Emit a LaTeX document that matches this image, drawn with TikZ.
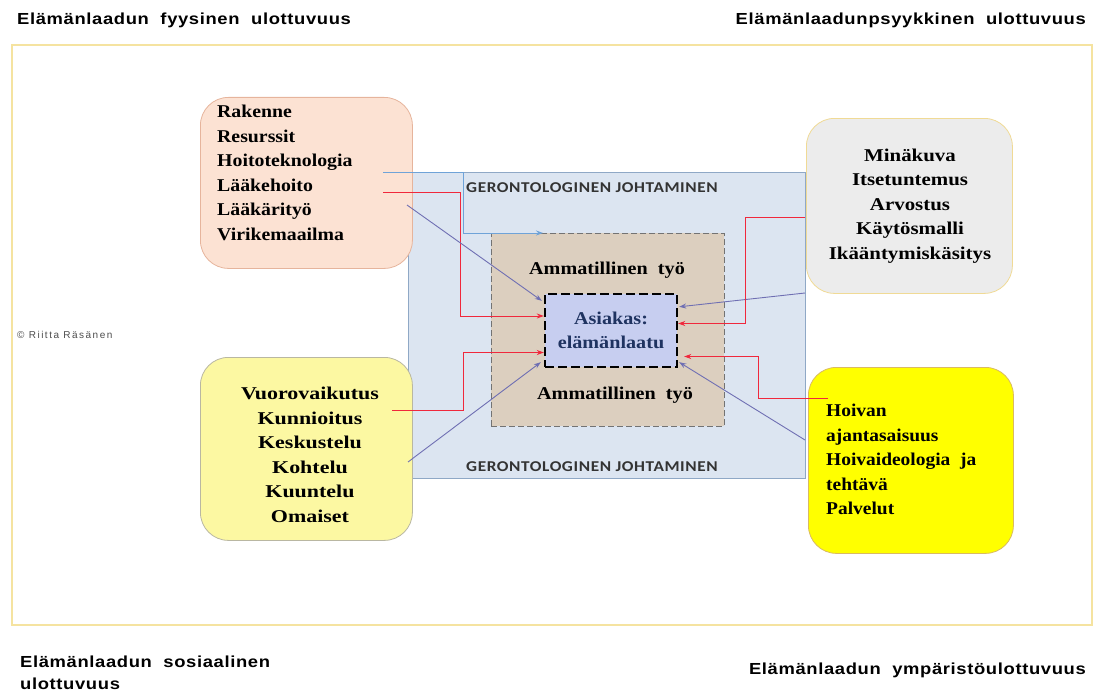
\documentclass[tikz,border=0pt]{standalone}
\usepackage{fontspec}
\setmainfont{Liberation Serif}
\setsansfont{Liberation Sans}
\newfontfamily\otsikkosans{Liberation Sans}[FakeStretch=1.15, LetterSpace=4]
\newfontfamily\johtofont{Carlito}[FakeStretch=1.15, LetterSpace=4]
\newfontfamily\pienifont{Liberation Sans}[LetterSpace=15]
\usetikzlibrary{arrows.meta, calc}
\definecolor{kehys}{HTML}{F5E3A0}
\definecolor{sininen}{HTML}{DCE5F1}
\definecolor{sinireuna}{HTML}{8FA8C6}
\definecolor{ruskea}{HTML}{DCCFBF}
\definecolor{asiakasfill}{HTML}{C7CEF0}
\definecolor{persikka}{HTML}{FCE2D3}
\definecolor{persikkareuna}{HTML}{E6B49C}
\definecolor{harmaa}{HTML}{ECECEC}
\definecolor{harmaareuna}{HTML}{F0DA95}
\definecolor{vaaleakelta}{HTML}{FCF8A2}
\definecolor{vaaleareuna}{HTML}{B9B7A2}
\definecolor{keltainen}{HTML}{FFFF00}
\definecolor{keltareuna}{HTML}{D9BA63}
\definecolor{cpun}{HTML}{F0283C}
\definecolor{cvio}{HTML}{6F6FB3}
\definecolor{csin}{HTML}{6FA3D8}
\definecolor{tummasin}{HTML}{1F3361}
\tikzset{
  laatikko/.style={draw=#1, rounded corners=28pt, line width=0.8pt, inner sep=0pt},
  lista/.style={font=\bfseries\addfontfeature{FakeStretch=#1}\fontsize{18}{24.5}\selectfont},
  lista/.default=1.1,
  otsikko/.style={font=\otsikkosans\bfseries\fontsize{16}{22}\selectfont, anchor=west, align=left, inner sep=0pt},
  johto/.style={font=\johtofont\bfseries\fontsize{15}{16}\selectfont, text=black!80},
  punainen/.style={draw=cpun, line width=0.9pt, -{Stealth[length=7pt, width=5pt]}},
  violetti/.style={draw=cvio, line width=0.9pt, -{Stealth[length=7pt, width=5pt]}},
}
\begin{document}
\begin{tikzpicture}[x=1pt, y=-1pt]
  \useasboundingbox (0,0) rectangle (1104,693);
  % ulkokehys ja otsikot
  \draw[kehys, line width=1.2pt] (12,45) rectangle (1092,625);
  \node[otsikko] (fyysinen) at (17,20) {Elämänlaadun\ \ fyysinen\ \ ulottuvuus};
  \node[otsikko, anchor=east] (psyykkinen) at (1086,20) {Elämänlaadun\hspace{1pt}psyykkinen\ \ ulottuvuus};
  \node[otsikko, anchor=north west] (sosiaalinen) at (20,656) {Elämänlaadun\ \ sosiaalinen\\ulottuvuus};
  \node[otsikko, anchor=east] (ymparisto) at (1086,670) {Elämänlaadun\ \ ympäristöulottuvuus};
  \node[anchor=west, inner sep=0pt, font=\pienifont\fontsize{10}{11}\selectfont, text=black!70] (tekija) at (17,335) {© Riitta Räsänen};

  % keskuksen laatikot
  \node[draw=sinireuna, fill=sininen, line width=0.8pt, minimum width=397pt, minimum height=306pt, anchor=north west] (johtaminen) at (408,172) {};
  \node[johto] (johtoylä) at (592,188) {GERONTOLOGINEN JOHTAMINEN};
  \node[johto] (johtoala) at (592,467) {GERONTOLOGINEN JOHTAMINEN};
  \node[draw=black!55, fill=ruskea, dash pattern=on 6pt off 3pt, line width=0.8pt, minimum width=233pt, minimum height=193pt, anchor=north west] (ammatti) at (491,233) {};
  \node[lista=1.12] (tyoyla) at (607,270) {Ammatillinen\ \ työ};
  \node[lista=1.12] (tyoala) at (615,395) {Ammatillinen\ \ työ};
  \node[draw=black, fill=asiakasfill, line width=2.4pt, dash pattern=on 9pt off 4pt, minimum width=132pt, minimum height=73pt, inner sep=0pt, align=center, text=tummasin, lista=1.12] (asiakas) at (611,330.5) {Asiakas:\\elämänlaatu};

  % ulottuvuuksien laatikot
  \node[laatikko=persikkareuna, fill=persikka, minimum width=212pt, minimum height=171pt, anchor=north west] (fyys) at (200,97) {};
  \node[lista=1.1, align=left, anchor=north west, inner sep=0pt] (fyyslista) at (217,105) {Rakenne\\Resurssit\\Hoitoteknologia\\Lääkehoito\\Lääkärityö\\Virikemaailma};
  \node[laatikko=harmaareuna, fill=harmaa, minimum width=206pt, minimum height=175pt, anchor=north west] (psyyk) at (806,118) {};
  \node[lista=1.16, align=center] (psyyklista) at (910,206) {Minäkuva\\Itsetuntemus\\Arvostus\\Käytösmalli\\Ikääntymiskäsitys};
  \node[laatikko=vaaleareuna, fill=vaaleakelta, minimum width=212pt, minimum height=183pt, anchor=north west] (sosi) at (200,357) {};
  \node[lista=1.22, align=center] (sosilista) at (310,455) {Vuorovaikutus\\Kunnioitus\\Keskustelu\\Kohtelu\\Kuuntelu\\Omaiset};
  \node[laatikko=keltareuna, fill=keltainen, minimum width=205pt, minimum height=186pt, anchor=north west] (ymp) at (808,367) {};
  \node[lista=1.08, align=left, anchor=north west, inner sep=0pt] (ymplista) at (826,404) {Hoivan\\ajantasaisuus\\Hoivaideologia\ \ ja\\tehtävä\\Palvelut};

  % yhteyksien alkupisteet
  \coordinate (hoitotek) at (383,172);
  \coordinate (laakeh) at (383,192);
  \coordinate (laakari) at (407,205);
  \coordinate (vuoro) at (392,410);
  \coordinate (kohtelu) at (408,462);
  \coordinate (minakuva) at (805,293);
  \coordinate (arvostus) at (805,217);
  \coordinate (hoivan) at (828,398);
  \coordinate (palvelu) at (805,440);

  % yhteydet
  \draw[draw=csin, line width=0.9pt, -{Stealth[length=7pt, width=5pt]}] (hoitotek) -- ++(80,0) |- (543,233);
  \draw[punainen] (laakeh) -| ($(asiakas.west)+(-83,-14.5)$) -- ($(asiakas.west)+(0,-14.5)$);
  \draw[violetti] (laakari) -- ($(asiakas.north west)+(-2,8)$);
  \draw[punainen] (vuoro) -| ($(asiakas.west)+(-80,22)$) -- ($(asiakas.west)+(0,22)$);
  \draw[violetti] (kohtelu) -- ($(asiakas.south west)+(-3,-6)$);
  \draw[violetti] (minakuva) -- ($(asiakas.north east)+(1,14)$);
  \draw[punainen] (arvostus) -| ($(asiakas.east)+(67,-7)$) -- ($(asiakas.east)+(0,-7)$);
  \draw[punainen] (hoivan) -| ($(asiakas.east)+(80,26)$) -- ($(asiakas.east)+(6,26)$);
  \draw[violetti] (palvelu) -- ($(asiakas.south east)+(1,-6)$);
\end{tikzpicture}
\end{document}
